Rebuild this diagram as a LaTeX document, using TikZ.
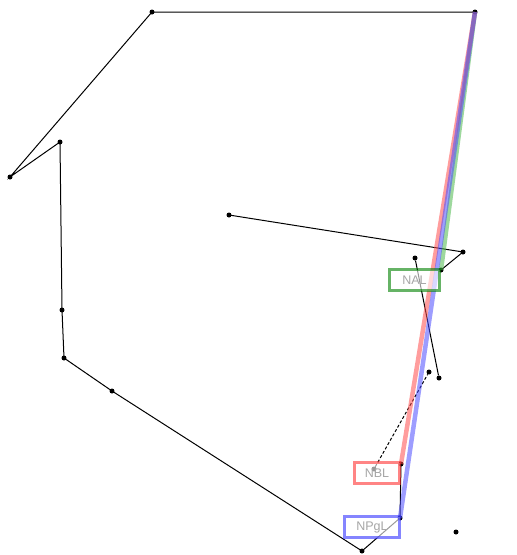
\documentclass[tikz,border=0pt]{standalone}
\usepackage{fontspec}
\setmainfont{Liberation Sans}
\begin{document}
\begin{tikzpicture}[x=1pt,y=-1pt,
  dot/.style={circle,fill=black,inner sep=0pt,minimum size=5pt},
  thin line/.style={draw=black,line width=1pt},
  track/.style={line width=4.5pt,opacity=0.55},
  lbl/.style={draw,line width=3pt,fill=white,fill opacity=0.6,text opacity=1,text=black!35,
    font=\fontsize{12.5}{13}\selectfont,inner sep=2pt,minimum height=21pt,draw opacity=0.6}]
\useasboundingbox (0,0) rectangle (517,555);
% points
\node[dot] (p1) at (475,12) {};
\node[dot] (p2) at (152,12) {};
\node[dot] (p3) at (10,177) {};
\node[dot] (p4) at (60,142) {};
\node[dot] (p5) at (62,310) {};
\node[dot] (p6) at (64,358) {};
\node[dot] (p7) at (112,391) {};
\node[dot] (p8) at (362,551) {};
\node[dot] (npgl) at (400,518) {};
\node[dot] (nbl) at (401,464) {};
\node[dot] (q1) at (374,469) {};
\node[dot] (q2) at (429,372) {};
\node[dot] (q3) at (439,378) {};
\node[dot] (q4) at (415,258) {};
\node[dot] (q5) at (229,215) {};
\node[dot] (q6) at (463,252) {};
\node[dot] (nal) at (441,270) {};
\node[dot] (iso) at (456,532) {};
% black lines
\draw[thin line] (p1.center) -- (p2.center) -- (p3.center) -- (p4.center) -- (p5.center) -- (p6.center) -- (p7.center) -- (p8.center) -- (npgl.center) -- (nbl.center);
\draw[thin line] (q5.center) -- (q6.center) -- (nal.center);
\draw[thin line] (q4) -- (q3);
\draw[thin line,dash pattern=on 3pt off 2pt] (q1) -- (q2);
% coloured tracks
\draw[track,green!60!black!70] (p1.center) -- (nal.center);
\draw[track,red!70] (p1.center) -- (nbl.center);
\draw[track,blue!70] (p1.center) -- (npgl.center);
% labels
\node[lbl,draw=green!50!black,anchor=east,minimum width=50pt] (lnal) at (441,280) {NAL};
\node[lbl,draw=red!80,anchor=east,minimum width=45pt] (lnbl) at (401,473) {NBL};
\node[lbl,draw=blue!80,anchor=east,minimum width=55pt] (lnpgl) at (401,527) {NPgL};
\end{tikzpicture}
\end{document}
